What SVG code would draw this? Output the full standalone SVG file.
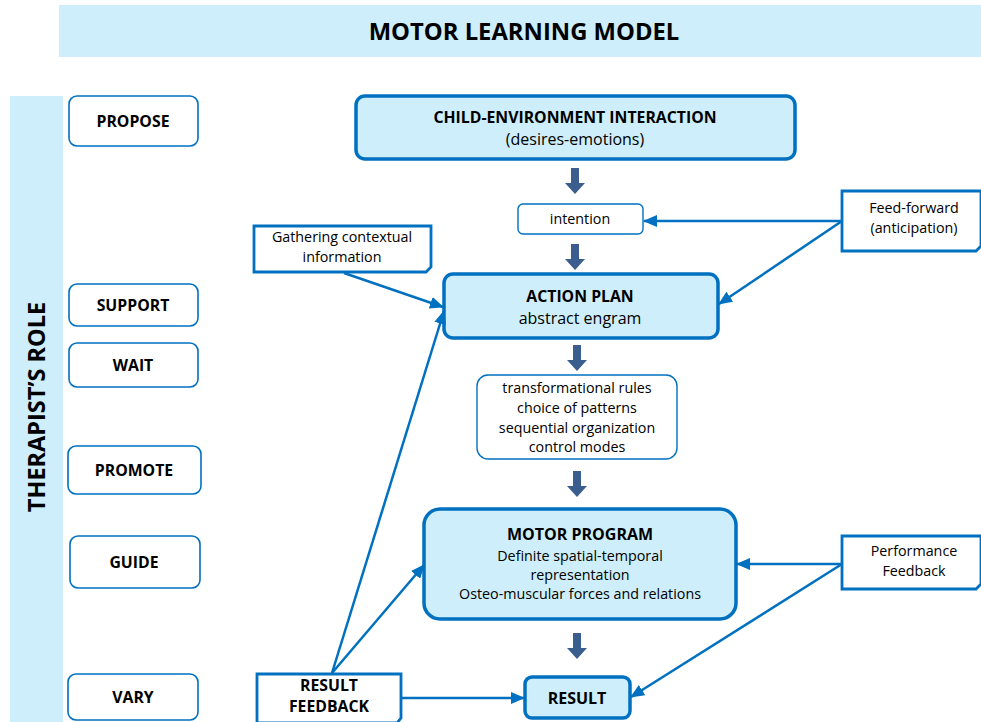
<svg xmlns="http://www.w3.org/2000/svg" width="981" height="722" viewBox="0 0 981 722">
<style>
text{font-family:"Open Sans","Liberation Sans",sans-serif;fill:#000;text-anchor:middle}
.b{font-weight:bold}
.side{fill:#fff;stroke:#0070c0;stroke-width:1.6}
.main{fill:#cdeefa;stroke:#0070c0;stroke-width:3.5}
.thin{fill:#fff;stroke:#0070c0;stroke-width:1.4}
.note{fill:#fff;stroke:#0070c0;stroke-width:2.8}
.con{stroke:#0070c0;stroke-width:2.5;fill:none;marker-end:url(#ah)}
.blk{fill:#3b5e8e}
.s{font-size:14.3px}
.m{font-size:15.8px}
.l{font-size:16px}
</style>
<defs>
<marker id="ah" markerUnits="userSpaceOnUse" markerWidth="14" markerHeight="12" refX="13" refY="6" orient="auto">
<path d="M0,0 L14,6 L0,12 Z" fill="#0070c0"/>
</marker>
<path id="blk" d="M-4,0 H4 V15 H10 L0,26 L-10,15 H-4 Z"/>
</defs>

<g id="title">
<rect x="59" y="5" width="922" height="52" fill="#cdeefa"/>
<text x="524" y="40" class="b" font-size="23.8">MOTOR LEARNING MODEL</text>
</g>

<g id="therapist-role">
<rect x="10" y="96" width="53" height="626" fill="#cdeefa"/>
<text transform="translate(45,407) rotate(-90)" class="b" font-size="23.5">THERAPIST’S ROLE</text>
</g>

<g id="propose"><rect class="side" x="69" y="96" width="129" height="50" rx="8"/><text x="133" y="127" class="b m">PROPOSE</text></g>
<g id="support"><rect class="side" x="69" y="284" width="129" height="42" rx="8"/><text x="133" y="311" class="b m">SUPPORT</text></g>
<g id="wait"><rect class="side" x="69" y="343" width="129" height="44" rx="8"/><text x="133" y="371" class="b m">WAIT</text></g>
<g id="promote"><rect class="side" x="68" y="446" width="133" height="48" rx="8"/><text x="134" y="476" class="b m">PROMOTE</text></g>
<g id="guide"><rect class="side" x="70" y="536" width="130" height="52" rx="8"/><text x="134" y="568" class="b m">GUIDE</text></g>
<g id="vary"><rect class="side" x="68" y="674" width="130" height="46" rx="8"/><text x="133" y="703" class="b m">VARY</text></g>

<g id="child-environment">
<rect class="main" x="356" y="96" width="439" height="63" rx="9"/>
<text x="575" y="123" class="b m">CHILD-ENVIRONMENT INTERACTION</text>
<text x="575" y="145" class="l">(desires-emotions)</text>
</g>

<g id="intention">
<rect class="thin" x="518" y="204" width="125" height="30" rx="5"/>
<text x="580" y="224" class="s">intention</text>
</g>

<g id="gathering">
<path class="note" d="M254,226 H431 V267 L426,272 H254 Z"/>
<text x="342" y="242" class="s">Gathering contextual</text>
<text x="342" y="262" class="s">information</text>
</g>

<g id="action-plan">
<rect class="main" x="444" y="274" width="274" height="64" rx="9"/>
<text x="580" y="302" class="b m">ACTION PLAN</text>
<text x="580" y="324" class="l">abstract engram</text>
</g>

<g id="feed-forward">
<path class="note" d="M842,191 H981 V246 L976,251 H842 Z"/>
<text x="914" y="213" class="s">Feed-forward</text>
<text x="914" y="233" class="s">(anticipation)</text>
</g>

<g id="rules">
<rect class="thin" x="477" y="375" width="200" height="84" rx="11"/>
<text x="577" y="393" class="s">transformational rules</text>
<text x="577" y="413" class="s">choice of patterns</text>
<text x="577" y="433" class="s">sequential organization</text>
<text x="577" y="452" class="s">control modes</text>
</g>

<g id="motor-program">
<rect class="main" x="424" y="509" width="312" height="110" rx="16"/>
<text x="580" y="540" class="b l">MOTOR PROGRAM</text>
<text x="580" y="561" class="s">Definite spatial-temporal</text>
<text x="580" y="580" class="s">representation</text>
<text x="580" y="599" class="s">Osteo-muscular forces and relations</text>
</g>

<g id="performance-feedback">
<path class="note" d="M842,536 H981 V584 L976,589 H842 Z"/>
<text x="914" y="556" class="s">Performance</text>
<text x="914" y="576" class="s">Feedback</text>
</g>

<g id="result">
<rect class="main" x="525" y="677" width="105" height="41" rx="7"/>
<text x="577" y="704" class="b l">RESULT</text>
</g>

<g id="result-feedback">
<path class="note" d="M257,674 H401 V718 L397,723 H257 Z"/>
<text x="329" y="691" class="b m">RESULT</text>
<text x="329" y="712" class="b m">FEEDBACK</text>
</g>

<g id="connectors">
<use href="#blk" class="blk" x="575" y="168"/>
<use href="#blk" class="blk" x="575" y="244"/>
<use href="#blk" class="blk" x="577" y="345"/>
<use href="#blk" class="blk" x="577" y="471"/>
<use href="#blk" class="blk" x="577" y="633"/>
<line class="con" x1="344" y1="273" x2="443" y2="307"/>
<line class="con" x1="842" y1="221" x2="644" y2="221"/>
<line class="con" x1="842" y1="221" x2="719" y2="304"/>
<line class="con" x1="842" y1="564" x2="737" y2="564"/>
<line class="con" x1="842" y1="564" x2="631" y2="697"/>
<line class="con" x1="401" y1="698" x2="524" y2="698"/>
<line class="con" x1="332" y1="673" x2="444" y2="311"/>
<line class="con" x1="332" y1="673" x2="424" y2="565"/>
</g>
</svg>
